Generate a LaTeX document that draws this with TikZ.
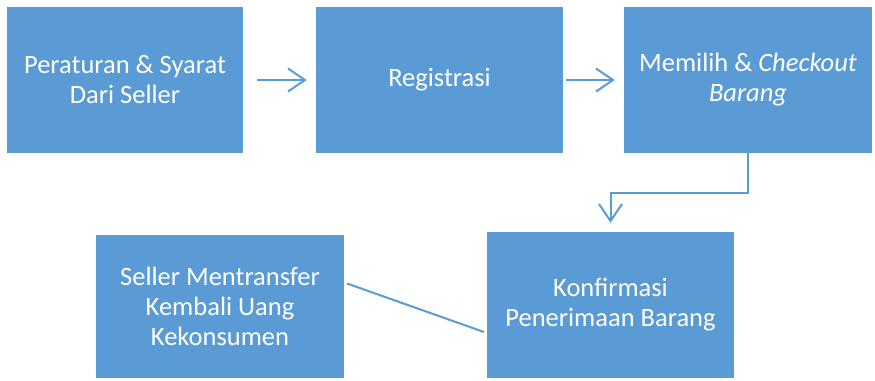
\documentclass[tikz,border=0pt]{standalone}
\usepackage{fontspec}
\setmainfont{Carlito}
\usetikzlibrary{arrows.meta}
\definecolor{boxblue}{HTML}{5B9BD5}
\tikzset{
  box/.style={fill=boxblue, draw=none, inner sep=0pt, text=white, align=center,
    font=\fontsize{26.5}{30}\selectfont},
  conn/.style={draw=boxblue, line width=2pt},
  arr/.style={conn, -{Straight Barb[length=17pt,width=23pt,line width=2pt]}}
}
\begin{document}
\begin{tikzpicture}[x=1pt,y=-1pt]
\useasboundingbox (0,0) rectangle (875,380);
\node[box, minimum width=236pt, minimum height=146pt] (b1) at (125,80) {Peraturan \& Syarat\\Dari Seller};
\node[box, minimum width=247pt, minimum height=146pt] (b2) at (439.5,80) {Registrasi};
\node[box, minimum width=248pt, minimum height=146pt] (b3) at (748,80) {Memilih \& \textit{Checkout}\\\textit{Barang}};
\node[box, minimum width=247pt, minimum height=146pt] (b4) at (610.5,305) {Konfirmasi\\Penerimaan Barang};
\node[box, minimum width=248pt, minimum height=143pt] (b5) at (220,306.5) {Seller Mentransfer\\Kembali Uang\\Kekonsumen};
\draw[arr, shorten <=14pt, shorten >=9pt] (b1.east) -- (b2.west);
\draw[arr, shorten <=3pt, shorten >=9pt] (b2.east) -- (b3.west);
\draw[arr, shorten >=9pt] (b3.south) -- ++(0,40) -| (b4.north);
\draw[conn, shorten <=3pt, shorten >=3pt] ([yshift=24pt]b5.east) -- ([yshift=-28pt]b4.west);
\end{tikzpicture}
\end{document}
